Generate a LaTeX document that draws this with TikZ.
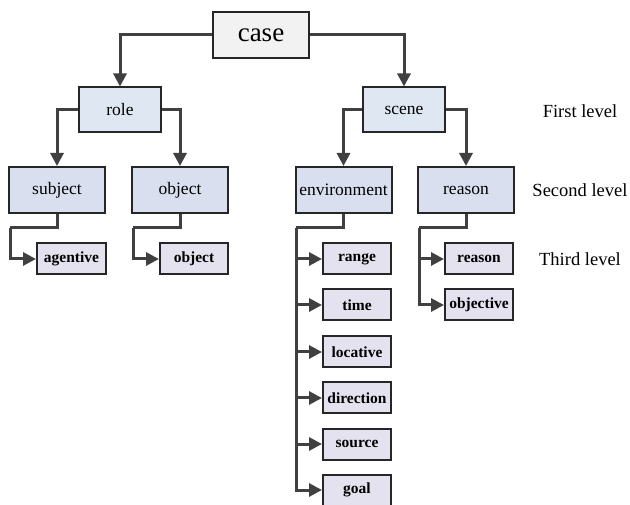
\documentclass[tikz,border=0pt]{standalone}
\usepackage{fontspec}
\setmainfont{Liberation Serif}
\usetikzlibrary{arrows.meta}

\definecolor{casegray}{HTML}{F2F2F2}
\definecolor{toplevel}{HTML}{DFE8F2}
\definecolor{midlevel}{HTML}{D9DFEE}
\definecolor{lowlevel}{HTML}{E5E2EF}
\definecolor{linegray}{HTML}{404040}

\begin{document}
\begin{tikzpicture}[x=1pt,y=1pt,
    box/.style={draw=black!85,line width=2pt,inner sep=0pt},
    casebox/.style={box,fill=casegray,minimum width=96pt,minimum height=46pt,font=\fontsize{27}{27}\selectfont},
    firstbox/.style={box,fill=toplevel,minimum width=82pt,minimum height=45pt,font=\fontsize{17.5}{17.5}\selectfont},
    secondbox/.style={box,fill=midlevel,minimum width=96pt,minimum height=46pt,font=\fontsize{17.5}{17.5}\selectfont},
    thirdbox/.style={box,fill=lowlevel,minimum width=68pt,minimum height=31pt,font=\fontsize{15.5}{15.5}\selectfont\bfseries},
    levellabel/.style={font=\fontsize{18.5}{18.5}\selectfont},
    conn/.style={draw=linegray,line width=3pt,-{Triangle[length=13pt,width=13pt]}}]
  \useasboundingbox (0,0) rectangle (630,-505);

  % top and first level
  \node[casebox] (case) at (261,-35) {case};
  \node[firstbox] (role) at (120,-110) {role};
  \node[firstbox] (scene) at (404,-110) {scene};
  \draw[conn] (case.west) -| (role.north);
  \draw[conn] (case.east) -| (scene.north);

  % second level
  \node[secondbox] (subject) at (57,-190) {subject};
  \node[secondbox] (object) at (180,-190) {object};
  \node[secondbox] (environment) at (343.5,-190) {environment};
  \node[secondbox] (reason) at (466,-190) {reason};
  \draw[conn] (role.west) -| (subject.north);
  \draw[conn] (role.east) -| (object.north);
  \draw[conn] (scene.west) -| (environment.north);
  \draw[conn] (scene.east) -| (reason.north);

  % third level
  \node[thirdbox,minimum width=69pt] (agentive) at (71.5,-259) {agentive};
  \node[thirdbox] (objectcase) at (194,-259) {object};
  \node[thirdbox] (reasoncase) at (479,-259) {reason};
  \node[thirdbox] (objective) at (479,-305) {objective};
  \foreach \name/\ypos in {range/259,time/305,locative/352,direction/398,source/444,goal/490}
    \node[thirdbox] (\name) at (357,-\ypos) {\name};

  \coordinate (subjbus) at (10,-228);
  \coordinate (objbus) at (133,-228);
  \coordinate (envbus) at (296,-228);
  \coordinate (reabus) at (419,-228);
  \draw[conn,-] (subject.south) |- (subjbus);
  \draw[conn] (subjbus) |- (agentive.west);
  \draw[conn,-] (object.south) |- (objbus);
  \draw[conn] (objbus) |- (objectcase.west);
  \draw[conn,-] (environment.south) |- (envbus);
  \foreach \name in {range,time,locative,direction,source,goal}
    \draw[conn] (envbus) |- (\name.west);
  \draw[conn,-] (reason.south) |- (reabus);
  \draw[conn] (reabus) |- (reasoncase.west);
  \draw[conn] (reabus) |- (objective.west);

  % level labels
  \node[levellabel] (first) at (580,-111) {First level};
  \node[levellabel] (second) at (580,-190) {Second level};
  \node[levellabel] (third) at (580,-259) {Third level};
\end{tikzpicture}
\end{document}
